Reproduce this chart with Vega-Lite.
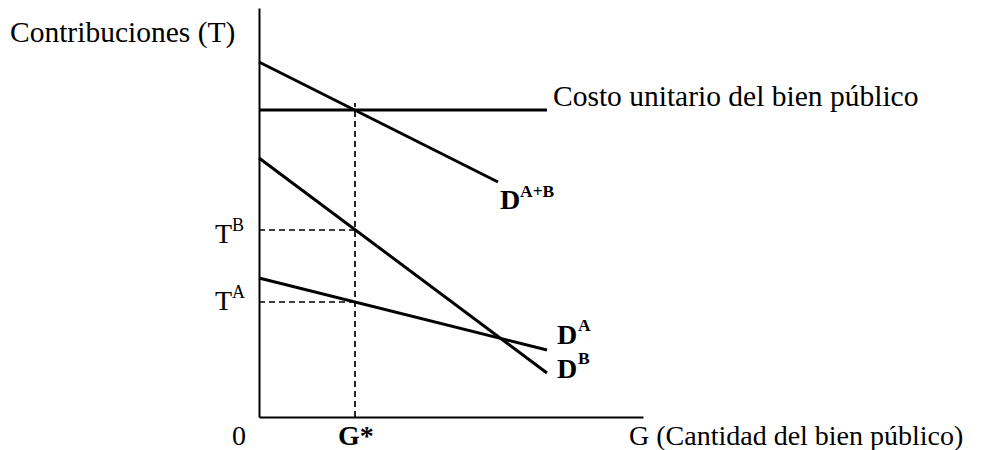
{
  "$schema": "https://vega.github.io/schema/vega-lite/v6.json",
  "width": 384,
  "height": 409,
  "autosize": "none",
  "padding": {"left": 259, "top": 8, "right": 345, "bottom": 33},
  "background": "white",
  "config": {"view": {"stroke": null}},
  "datasets": {
    "curves": [
      {"series": "Costo", "g": 0, "t": 307},
      {"series": "Costo", "g": 288, "t": 307},
      {"series": "DAB", "g": 0, "t": 355},
      {"series": "DAB", "g": 239, "t": 235},
      {"series": "DB", "g": 0, "t": 259},
      {"series": "DB", "g": 288, "t": 44},
      {"series": "DA", "g": 0, "t": 139},
      {"series": "DA", "g": 288, "t": 67}
    ],
    "guides": [
      {"guide": "Gstar", "g": 96, "t": 0},
      {"guide": "Gstar", "g": 96, "t": 314},
      {"guide": "TB", "g": 0, "t": 187},
      {"guide": "TB", "g": 96, "t": 187},
      {"guide": "TA", "g": 0, "t": 115},
      {"guide": "TA", "g": 96, "t": 115}
    ],
    "textLarge": [
      {"label": "Contribuciones (T)", "g": -249, "t": 375},
      {"label": "Costo unitario del bien público", "g": 294, "t": 311}
    ],
    "textRegular": [
      {"label": "T", "g": -44, "t": 174},
      {"label": "T", "g": -44, "t": 107},
      {"label": "0", "g": -27, "t": -28},
      {"label": "G (Cantidad del bien público)", "g": 370, "t": -28}
    ],
    "supRegular": [
      {"label": "B", "g": -27, "t": 186},
      {"label": "A", "g": -27, "t": 119}
    ],
    "textBold": [
      {"label": "D", "g": 241, "t": 208},
      {"label": "D", "g": 298, "t": 73},
      {"label": "D", "g": 298, "t": 39},
      {"label": "G*", "g": 79, "t": -28}
    ],
    "supBold": [
      {"label": "A+B", "g": 261, "t": 220},
      {"label": "A", "g": 319, "t": 86},
      {"label": "B", "g": 319, "t": 53}
    ]
  },
  "encoding": {
    "x": {
      "field": "g",
      "type": "quantitative",
      "scale": {"domain": [0, 384], "nice": false, "zero": false},
      "axis": {"title": null, "labels": false, "ticks": false, "grid": false, "domainColor": "black", "domainWidth": 2}
    },
    "y": {
      "field": "t",
      "type": "quantitative",
      "scale": {"domain": [0, 409], "nice": false, "zero": false},
      "axis": {"title": null, "labels": false, "ticks": false, "grid": false, "domainColor": "black", "domainWidth": 2}
    }
  },
  "layer": [
    {
      "data": {"name": "guides"},
      "mark": {"type": "line", "color": "black", "strokeWidth": 1.7, "strokeDash": [6, 4], "clip": false},
      "encoding": {"detail": {"field": "guide"}}
    },
    {
      "data": {"name": "curves"},
      "mark": {"type": "line", "color": "black", "strokeWidth": 3, "strokeCap": "butt", "clip": false},
      "encoding": {"detail": {"field": "series"}}
    },
    {
      "data": {"name": "textLarge"},
      "mark": {"type": "text", "font": "Liberation Serif", "fontSize": 29.5, "align": "left", "baseline": "alphabetic", "color": "black"},
      "encoding": {"text": {"field": "label"}}
    },
    {
      "data": {"name": "textRegular"},
      "mark": {"type": "text", "font": "Liberation Serif", "fontSize": 28, "align": "left", "baseline": "alphabetic", "color": "black"},
      "encoding": {"text": {"field": "label"}}
    },
    {
      "data": {"name": "supRegular"},
      "mark": {"type": "text", "font": "Liberation Serif", "fontSize": 18, "align": "left", "baseline": "alphabetic", "color": "black"},
      "encoding": {"text": {"field": "label"}}
    },
    {
      "data": {"name": "textBold"},
      "mark": {"type": "text", "font": "Liberation Serif", "fontSize": 28, "fontWeight": "bold", "align": "left", "baseline": "alphabetic", "color": "black"},
      "encoding": {"text": {"field": "label"}}
    },
    {
      "data": {"name": "supBold"},
      "mark": {"type": "text", "font": "Liberation Serif", "fontSize": 17.5, "fontWeight": "bold", "align": "left", "baseline": "alphabetic", "color": "black"},
      "encoding": {"text": {"field": "label"}}
    }
  ]
}
